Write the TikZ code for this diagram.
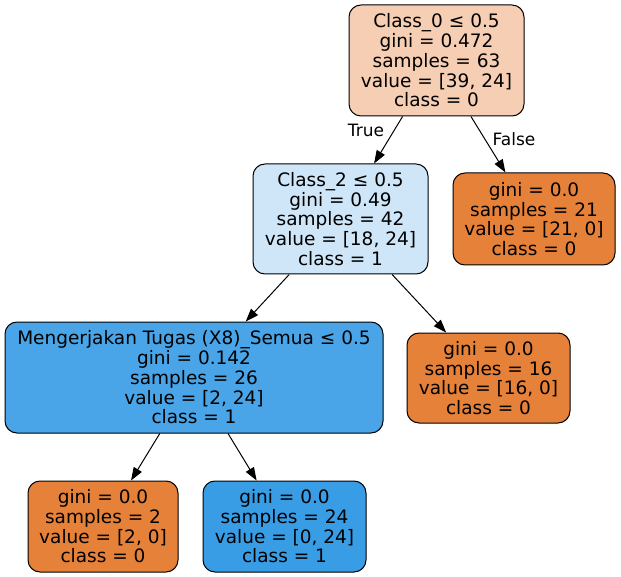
\documentclass[tikz,border=0pt]{standalone}
\usepackage{fontspec}
\setmainfont{DejaVu Sans}
\usetikzlibrary{arrows.meta}
\definecolor{rootc}{HTML}{F5CEB3}
\definecolor{lblue}{HTML}{CEE6F8}
\definecolor{mblue}{HTML}{49A5E7}
\definecolor{orng}{HTML}{E58139}
\definecolor{blu}{HTML}{399DE5}
\tikzset{
  tnode/.style={draw=black, line width=1pt, rounded corners=12pt, inner sep=0pt,
    align=center, font=\fontsize{18.5}{19.7}\selectfont, anchor=center},
  edge/.style={line width=1pt, -{Triangle[length=13pt,width=9.3pt]}},
  elabel/.style={font=\fontsize{17}{19}\selectfont, inner sep=0pt}
}
\begin{document}
\begin{tikzpicture}[x=1pt,y=-1pt]
\useasboundingbox (0,0) rectangle (621,577);
\fill[white] (0,0) rectangle (621,577);
\node[tnode, fill=rootc, minimum width=175pt, minimum height=111pt] (root) at (436.5,60.5)
  {Class\_0 ≤ 0.5\\gini = 0.472\\samples = 63\\value = [39, 24]\\class = 0};
\node[tnode, fill=lblue, minimum width=175pt, minimum height=110pt] (n2) at (340.5,219)
  {Class\_2 ≤ 0.5\\gini = 0.49\\samples = 42\\value = [18, 24]\\class = 1};
\node[tnode, fill=orng, minimum width=162pt, minimum height=92pt] (nf) at (534,219)
  {gini = 0.0\\samples = 21\\value = [21, 0]\\class = 0};
\node[tnode, fill=mblue, minimum width=378pt, minimum height=111pt] (n8) at (194,377.5)
  {Mengerjakan Tugas (X8)\_Semua ≤ 0.5\\gini = 0.142\\samples = 26\\value = [2, 24]\\class = 1};
\node[tnode, fill=orng, minimum width=163pt, minimum height=90pt] (n16) at (488.5,378)
  {gini = 0.0\\samples = 16\\value = [16, 0]\\class = 0};
\node[tnode, fill=orng, minimum width=150pt, minimum height=91pt] (l2) at (103,526.5)
  {gini = 0.0\\samples = 2\\value = [2, 0]\\class = 0};
\node[tnode, fill=blu, minimum width=163pt, minimum height=91pt] (l24) at (284.5,526.5)
  {gini = 0.0\\samples = 24\\value = [0, 24]\\class = 1};
\draw[edge] (root) -- (n2);
\draw[edge] (root) -- (nf);
\draw[edge] (n2) -- (n8);
\draw[edge] (n2) -- (n16);
\draw[edge] (n8) -- (l2);
\draw[edge] (n8) -- (l24);
\node[elabel] (tlab) at (366,130) {True};
\node[elabel] (flab) at (514,139) {False};
\end{tikzpicture}
\end{document}
